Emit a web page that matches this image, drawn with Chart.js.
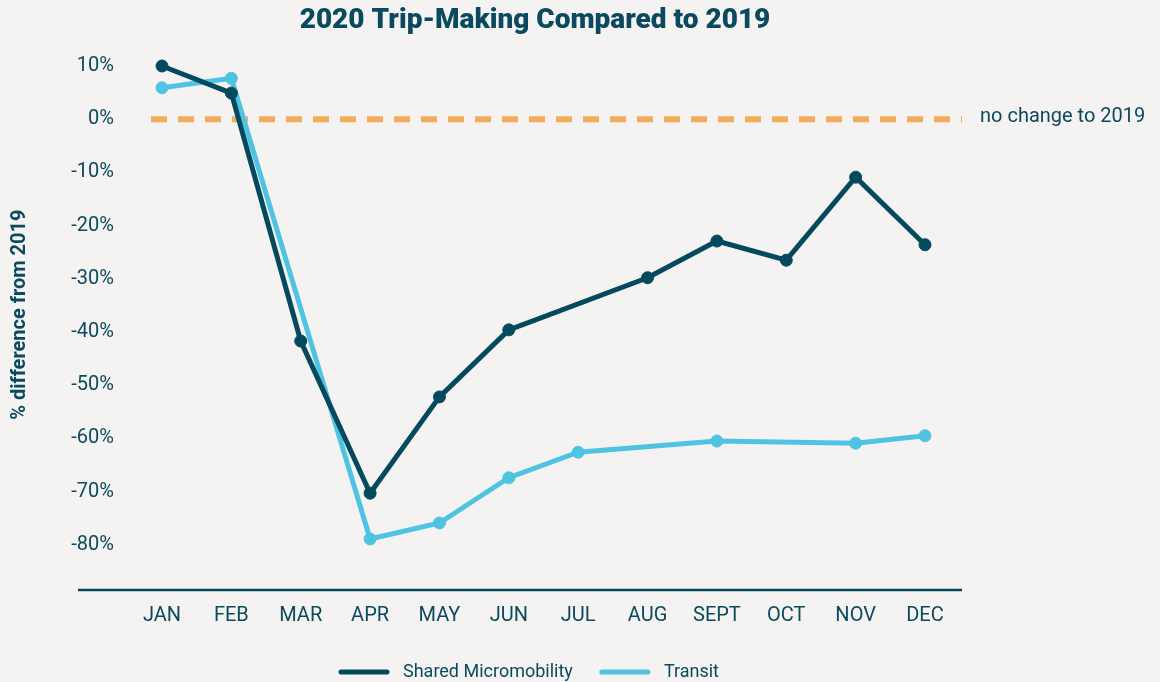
<!DOCTYPE html>
<html>
<head>
<meta charset="utf-8">
<script src="https://cdn.jsdelivr.net/npm/chart.js@4/dist/chart.umd.min.js"></script>
<style>
  html, body { margin: 0; padding: 0; background: #f4f3f1; }
  #wrap { width: 1160px; height: 682px; }
</style>
</head>
<body>
<div id="wrap"><canvas id="trips" width="1160" height="682"></canvas></div>
<script>

const months = ["JAN", "FEB", "MAR", "APR", "MAY", "JUN", "JUL", "AUG", "SEPT", "OCT", "NOV", "DEC"];
const sharedMicromobility = [10, 4.9, -41.7, -70.3, -52.2, -39.6, null, -29.8, -22.9, -26.5, -10.9, -23.6];
const transit = [5.9, 7.7, null, -78.9, -75.9, -67.4, -62.6, null, -60.5, null, -60.9, -59.5];
const yTicks = [10, 0, -10, -20, -30, -40, -50, -60, -70, -80];
const baselineValue = 0;
const baselineLabel = "no change to 2019";
const chartTitle = "2020 Trip-Making Compared to 2019";

const textColor = "#0b4a5e";
const darkTeal = "#04495e";
const lightBlue = "#4fc4e2";
const orange = "#f1ad5b";
const fontFamily = "Roboto, 'Noto Sans', sans-serif";

// title, dashed baseline, bottom axis line, side label and legend
const decor = {
    id: "decor",
    beforeDatasetsDraw(chart) {
        const ctx = chart.ctx;
        const area = chart.chartArea;
        const y = chart.scales.y.getPixelForValue(baselineValue);
        ctx.save();
        ctx.strokeStyle = orange;
        ctx.lineWidth = 6;
        ctx.setLineDash([16, 11]);
        ctx.beginPath();
        ctx.moveTo(151, y);
        ctx.lineTo(962, y);
        ctx.stroke();
        ctx.setLineDash([]);

        ctx.strokeStyle = darkTeal;
        ctx.lineWidth = 2.5;
        ctx.beginPath();
        ctx.moveTo(78, area.bottom);
        ctx.lineTo(962, area.bottom);
        ctx.stroke();

        ctx.fillStyle = textColor;
        ctx.font = "20px " + fontFamily;
        ctx.textAlign = "left";
        ctx.textBaseline = "middle";
        ctx.fillText(baselineLabel, 980, y - 2);

        ctx.font = "900 28px " + fontFamily;
        ctx.textAlign = "center";
        ctx.fillText(chartTitle, 535, 21);
        ctx.restore();
    },
    afterDraw(chart) {
        const ctx = chart.ctx;
        const sets = chart.data.datasets;
        ctx.save();
        ctx.font = "18px " + fontFamily;
        const sample = 50, gap = 14, between = 27;
        let total = 0;
        sets.forEach((ds, i) => {
            total += sample + gap + ctx.measureText(ds.label).width;
            if (i < sets.length - 1) total += between;
        });
        let x = 529 - total / 2;
        const y = 672;
        sets.forEach((ds) => {
            ctx.strokeStyle = ds.borderColor;
            ctx.lineWidth = 5;
            ctx.lineCap = "round";
            ctx.beginPath();
            ctx.moveTo(x + 2, y);
            ctx.lineTo(x + sample - 2, y);
            ctx.stroke();
            x += sample + gap;
            ctx.fillStyle = textColor;
            ctx.textAlign = "left";
            ctx.textBaseline = "middle";
            ctx.fillText(ds.label, x, y);
            x += ctx.measureText(ds.label).width + between;
        });
        ctx.restore();
    }
};

const ctx_trips = document.getElementById("trips").getContext("2d");

const tripsChart = new Chart(ctx_trips, {
    type: "line",
    data: {
        labels: months,
        datasets: [
            {
                label: "Shared Micromobility",
                data: sharedMicromobility,
                borderColor: darkTeal,
                backgroundColor: darkTeal,
                borderWidth: 5,
                pointRadius: 6,
                pointBorderWidth: 1,
                pointBorderColor: darkTeal,
                pointBackgroundColor: darkTeal,
                spanGaps: true,
                tension: 0
            },
            {
                label: "Transit",
                data: transit,
                borderColor: lightBlue,
                backgroundColor: lightBlue,
                borderWidth: 5,
                pointRadius: 6,
                pointBorderWidth: 1,
                pointBorderColor: lightBlue,
                pointBackgroundColor: lightBlue,
                spanGaps: true,
                tension: 0
            }
        ]
    },
    options: {
        responsive: false,
        devicePixelRatio: 1,
        animation: false,
        clip: false,
        layout: {
            padding: { top: 39.4, left: 6, right: 235, bottom: 52 }
        },
        scales: {
            x: {
                offset: false,
                grid: { display: false, drawTicks: false },
                border: { display: false },
                ticks: {
                    color: textColor,
                    padding: 14,
                    maxRotation: 0,
                    font: { family: fontFamily, size: 20 }
                },
                afterFit(scale) { scale.height = 40; }
            },
            y: {
                min: -88.5,
                max: 15,
                grid: { display: false, drawTicks: false },
                border: { display: false },
                afterBuildTicks(scale) {
                    scale.ticks = yTicks.map(v => ({ value: v }));
                },
                ticks: {
                    color: textColor,
                    padding: 48,
                    font: { family: fontFamily, size: 20 },
                    callback: (v) => v + "%"
                },
                title: {
                    display: true,
                    text: "% difference from 2019",
                    color: textColor,
                    padding: { top: 2, bottom: 2 },
                    font: { family: fontFamily, size: 20, weight: "bold" }
                },
                afterFit(scale) {
                    scale.width = 156;
                    scale.paddingTop = 0;
                    scale.paddingBottom = 0;
                }
            }
        },
        plugins: {
            legend: { display: false },
            tooltip: { enabled: false },
            title: { display: false }
        }
    },
    plugins: [decor]
});
</script>
</body>
</html>
